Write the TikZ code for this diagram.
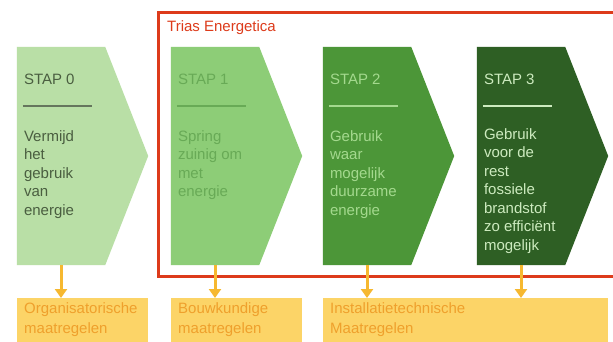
\documentclass[tikz,border=0pt]{standalone}
\usepackage{fontspec}
\setmainfont{Liberation Sans}
\usetikzlibrary{arrows.meta, positioning}

\definecolor{stapnul}{HTML}{B9DFA6}
\definecolor{stapeen}{HTML}{8DCD77}
\definecolor{staptwee}{HTML}{4C9638}
\definecolor{stapdrie}{HTML}{2E5F24}
\definecolor{tekstnul}{HTML}{4A5E40}
\definecolor{teksteen}{HTML}{68AA56}
\definecolor{teksttwee}{HTML}{A4D98E}
\definecolor{tekstdrie}{HTML}{CDEBBF}
\definecolor{framerood}{HTML}{DD3B1B}
\definecolor{maatgeel}{HTML}{FCD467}
\definecolor{maatoranje}{HTML}{EFA02C}
\definecolor{pijloranje}{HTML}{F6B830}

\begin{document}
\begin{tikzpicture}[x=1pt, y=-1pt,
    stepbox/.style={minimum width=88pt, minimum height=218pt, inner sep=0pt},
    steptitle/.style={anchor=west, inner sep=0pt, font=\fontsize{15}{18}\selectfont},
    stepbody/.style={anchor=north west, inner sep=0pt, align=left, font=\fontsize{15}{18.5}\selectfont},
    steprule/.style={line width=1.8pt},
    maatbox/.style={fill=maatgeel, minimum height=44pt, inner sep=0pt, anchor=north west},
    maattext/.style={anchor=north west, inner sep=0pt, align=left, text=maatoranje, font=\fontsize{15}{20}\selectfont},
    pijl/.style={draw=pijloranje, line width=3pt, -{Triangle[width=12pt,length=9pt]}}]
                \clip (0,0) rectangle (613,342);
                \fill[white] (0,0) rectangle (613,342);

                % Trias Energetica
                \draw[draw=framerood, line width=3pt] (158,13) rectangle (640,276);
                \node[anchor=west, inner sep=0pt, text=framerood, font=\fontsize{15}{18}\selectfont] (titel) at (167,28) {Trias Energetica};

                % Stap 0
                \node[stepbox] (s0) at (61,156) {};
                \fill[stapnul] (s0.north west) -- (s0.north east) -- ([xshift=43pt]s0.east) -- (s0.south east) -- (s0.south west) -- cycle;
                \node[steptitle, text=tekstnul] (t0) at ([xshift=7pt,yshift=-33pt]s0.north west) {STAP 0};
                \draw[steprule, draw=tekstnul!85] ([xshift=6pt,yshift=-59pt]s0.north west) -- ++(69,0);
                \node[stepbody, text=tekstnul] (b0) at ([xshift=7pt,yshift=-83.5pt]s0.north west) {Vermijd\\het\\gebruik\\van\\energie};

                % Stap 1
                \node[stepbox] (s1) at (215,156) {};
                \fill[stapeen] (s1.north west) -- (s1.north east) -- ([xshift=43pt]s1.east) -- (s1.south east) -- (s1.south west) -- cycle;
                \node[steptitle, text=teksteen] (t1) at ([xshift=7pt,yshift=-33pt]s1.north west) {STAP 1};
                \draw[steprule, draw=teksteen] ([xshift=6pt,yshift=-59pt]s1.north west) -- ++(69,0);
                \node[stepbody, text=teksteen] (b1) at ([xshift=7pt,yshift=-83.5pt]s1.north west) {Spring\\zuinig om\\met\\energie};

                % Stap 2
                \node[stepbox] (s2) at (367,156) {};
                \fill[staptwee] (s2.north west) -- (s2.north east) -- ([xshift=43pt]s2.east) -- (s2.south east) -- (s2.south west) -- cycle;
                \node[steptitle, text=teksttwee] (t2) at ([xshift=7pt,yshift=-33pt]s2.north west) {STAP 2};
                \draw[steprule, draw=teksttwee] ([xshift=6pt,yshift=-59pt]s2.north west) -- ++(69,0);
                \node[stepbody, text=teksttwee] (b2) at ([xshift=7pt,yshift=-83.5pt]s2.north west) {Gebruik\\waar\\mogelijk\\duurzame\\energie};

                % Stap 3
                \node[stepbox] (s3) at (521,156) {};
                \fill[stapdrie] (s3.north west) -- (s3.north east) -- ([xshift=43pt]s3.east) -- (s3.south east) -- (s3.south west) -- cycle;
                \node[steptitle, text=tekstdrie] (t3) at ([xshift=7pt,yshift=-33pt]s3.north west) {STAP 3};
                \draw[steprule, draw=tekstdrie] ([xshift=6pt,yshift=-59pt]s3.north west) -- ++(69,0);
                \node[stepbody, text=tekstdrie] (b3) at ([xshift=7pt,yshift=-81.5pt]s3.north west) {Gebruik\\voor de\\rest\\fossiele\\brandstof\\zo efficiënt\\mogelijk};

                % Maatregelen
                \node[maatbox, minimum width=131pt] (m0) at (17,298) {};
                \node[maattext] (o0) at ([xshift=7pt,yshift=-4pt]m0.north west) {Organisatorische\\maatregelen};
                \node[maatbox, minimum width=131pt] (m1) at (171,298) {};
                \node[maattext] (o1) at ([xshift=7pt,yshift=-4pt]m1.north west) {Bouwkundige\\maatregelen};
                \node[maatbox, minimum width=285pt] (m2) at (323,298) {};
                \node[maattext] (o2) at ([xshift=7pt,yshift=-4pt]m2.north west) {Installatietechnische\\Maatregelen};

                % Pijlen
                \draw[pijl] (s0.south) -- (m0.north -| s0.south);
                \draw[pijl] (s1.south) -- (m1.north -| s1.south);
                \draw[pijl] (s2.south) -- (m2.north -| s2.south);
                \draw[pijl] (s3.south) -- (m2.north -| s3.south);
            \end{tikzpicture}
\end{document}
